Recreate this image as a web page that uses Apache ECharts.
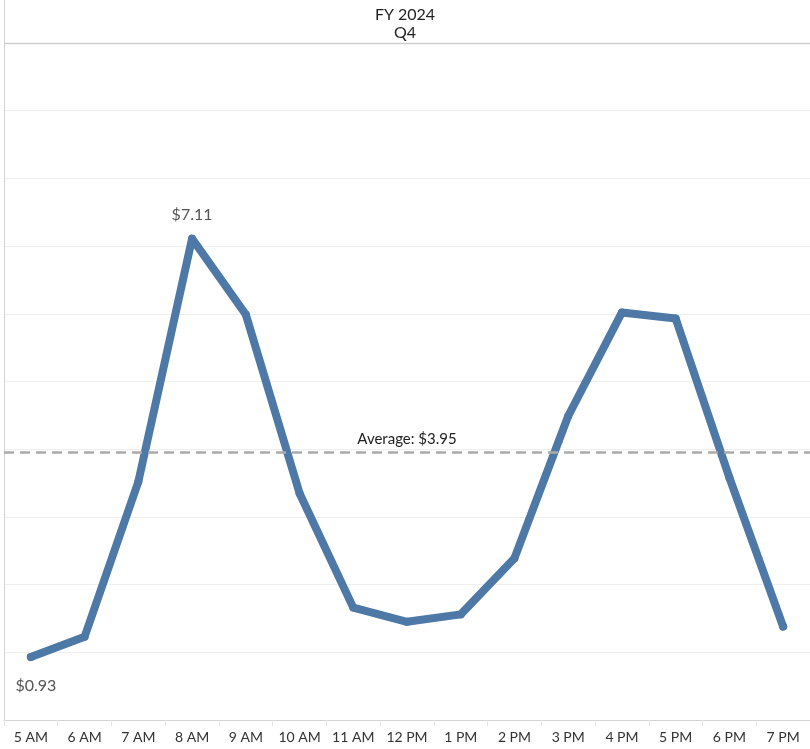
<!DOCTYPE html>
<html>
<head>
<meta charset="utf-8">
<script src="https://cdn.jsdelivr.net/npm/echarts@6/dist/echarts.min.js"></script>
<style>
html,body{margin:0;padding:0;background:#fff;}
#chart{width:810px;height:749px;}
</style>
</head>
<body>
<div id="chart"></div>
<script>
// Hourly values for FY 2024 Q4
const hours = ['5 AM','6 AM','7 AM','8 AM','9 AM','10 AM','11 AM','12 PM','1 PM','2 PM','3 PM','4 PM','5 PM','6 PM','7 PM'];
const values = [0.93, 1.23, 3.52, 7.11, 5.99, 3.35, 1.66, 1.45, 1.56, 2.39, 4.49, 6.02, 5.93, 3.58, 1.38];
const averageValue = 3.95;
const labelledIndexes = { 0: 'bottom', 3: 'top' };

const FONT = 'Lato, "Noto Sans", sans-serif';

const chart = echarts.init(document.getElementById('chart'));

const seriesData = values.map((v, i) => {
  const pos = labelledIndexes[i];
  const item = { value: v };
  if (pos) {
    item.label = {
      show: true,
      position: pos,
      distance: pos === 'bottom' ? 17 : 12,
      offset: pos === 'bottom' ? [5, 0] : [0, 0],
      formatter: p => '$' + p.value.toFixed(2),
      color: '#555',
      fontSize: 16,
      fontFamily: FONT
    };
  }
  return item;
});

chart.setOption({
  animation: false,
  title: {
    text: 'FY 2024\nQ4',
    left: 'center',
    top: 1,
    textStyle: { fontSize: 16, fontWeight: 'normal', color: '#222', lineHeight: 18, fontFamily: FONT }
  },
  grid: { left: 4, right: 0, top: 43, bottom: 29 },
  xAxis: {
    type: 'category',
    data: hours,
    boundaryGap: true,
    axisLine: { show: true, lineStyle: { color: '#d4d4d4', width: 1 } },
    axisTick: { show: true, length: 6, lineStyle: { color: '#e4e4e4' } },
    axisLabel: { color: '#333', fontSize: 14, fontFamily: FONT, margin: 10, interval: 0 }
  },
  yAxis: {
    type: 'value',
    min: 0,
    max: 10,
    interval: 1,
    axisLine: { show: true, lineStyle: { color: '#d4d4d4', width: 1 } },
    axisTick: { show: false },
    axisLabel: { show: false },
    splitLine: { show: true, lineStyle: { color: '#efefef', width: 1 } }
  },
  graphic: [
    { type: 'line', shape: { x1: 4.5, y1: 0, x2: 4.5, y2: 43 }, style: { stroke: '#d4d4d4', lineWidth: 1 } },
    { type: 'line', shape: { x1: 4, y1: 43.5, x2: 810, y2: 43.5 }, style: { stroke: '#cfcfcf', lineWidth: 1.5 }, z: 10 }
  ],
  series: [{
    type: 'line',
    data: seriesData,
    symbol: 'circle',
    symbolSize: 8,
    showSymbol: true,
    lineStyle: { color: '#4e79a7', width: 8, cap: 'round', join: 'round' },
    itemStyle: { color: '#4e79a7', borderWidth: 0 },
    markLine: {
      silent: true,
      symbol: 'none',
      data: [{ yAxis: averageValue }],
      lineStyle: { color: '#aaaaaa', type: [10, 6], width: 2.5 },
      label: {
        show: true,
        position: 'middle',
        formatter: () => 'Average: $' + averageValue.toFixed(2),
        color: '#222',
        fontSize: 15,
        fontFamily: FONT,
        distance: 6
      }
    }
  }]
});
</script>
</body>
</html>
